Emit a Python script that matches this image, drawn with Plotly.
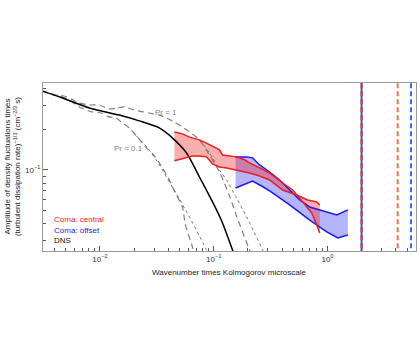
import plotly.graph_objects as go

# ---------------- data ----------------
dns_x = [0.0031, 0.00438, 0.00807, 0.01479, 0.02218, 0.03327, 0.04335, 0.05758, 0.0750, 0.0957, 0.1059, 0.1196, 0.1465, 0.1556]
dns_y = [0.385, 0.348, 0.288, 0.255, 0.231, 0.205, 0.173, 0.134, 0.0887, 0.0600, 0.0506, 0.0405, 0.0255, 0.0223]

pr1_x = [0.0031, 0.00396, 0.00484, 0.00559, 0.00659, 0.00807, 0.00989, 0.01209, 0.0142, 0.01637, 0.02005, 0.02716,
         0.03327, 0.04335, 0.05311, 0.06506, 0.0750, 0.09187, 0.1125, 0.1378, 0.1588, 0.2066, 0.2195]
pr1_y = [0.385, 0.359, 0.353, 0.336, 0.313, 0.303, 0.303, 0.283, 0.288, 0.293, 0.278, 0.264,
         0.255, 0.231, 0.208, 0.185, 0.167, 0.129, 0.0966, 0.0642, 0.0456, 0.0255, 0.0223]

pr01_x = [0.0031, 0.00438, 0.00537, 0.00659, 0.00855, 0.01027, 0.01209, 0.01393, 0.01572, 0.01813, 0.02089, 0.02559,
          0.03009, 0.03327, 0.04077, 0.04607, 0.05311, 0.05642, 0.06506, 0.06773]
pr01_y = [0.385, 0.353, 0.330, 0.293, 0.269, 0.264, 0.247, 0.243, 0.223, 0.205, 0.179, 0.146,
          0.127, 0.113, 0.0843, 0.0676, 0.0532, 0.0392, 0.0269, 0.0223]

pr01_fit_x = [0.02089, 0.02716, 0.03327, 0.04335, 0.06117, 0.0750, 0.08645, 0.09187]
pr01_fit_y = [0.179, 0.141, 0.109, 0.0748, 0.0449, 0.0324, 0.0255, 0.0223]

pr1_fit_x = [0.0750, 0.09187, 0.1125, 0.1297, 0.1588, 0.1945, 0.2288, 0.2690, 0.2861]
pr1_fit_y = [0.167, 0.134, 0.100, 0.0843, 0.0621, 0.0449, 0.0341, 0.0255, 0.0223]

central_a_x = [0.04515, 0.05311, 0.06117, 0.0750, 0.08645, 0.1016, 0.1125, 0.1196, 0.1378, 0.1588, 0.1868, 0.2066,
               0.2530, 0.3103, 0.4037, 0.4944, 0.6058, 0.7275, 0.8047, 0.8554]
central_a_y = [0.191, 0.185, 0.175, 0.167, 0.158, 0.148, 0.141, 0.129, 0.127, 0.125, 0.119, 0.113,
               0.1035, 0.0950, 0.0801, 0.0711, 0.0579, 0.0480, 0.0392, 0.0341]
central_b_x = [0.04515, 0.05311, 0.06506, 0.0750, 0.08645, 0.09755, 0.1125, 0.1297, 0.1588, 0.2066, 0.2530, 0.3103,
               0.4037, 0.5366, 0.6700, 0.8047, 0.8554]
central_b_y = [0.117, 0.121, 0.127, 0.127, 0.125, 0.111, 0.105, 0.1035, 0.100, 0.0950, 0.0903, 0.0843,
               0.0711, 0.0653, 0.0600, 0.0579, 0.0551]

offset_hi_x = [0.1556, 0.1945, 0.2195, 0.2530, 0.3103, 0.3800, 0.4653, 0.5702, 0.6982, 0.8554, 1.048, 1.208, 1.510]
offset_hi_y = [0.125, 0.125, 0.123, 0.109, 0.0966, 0.0843, 0.0711, 0.0600, 0.0532, 0.0506, 0.0480, 0.0464, 0.0506]
offset_lo_x = [0.1556, 0.1868, 0.2195, 0.2636, 0.3103, 0.4653, 0.6982, 0.9859, 1.233, 1.510]
offset_lo_y = [0.0736, 0.0787, 0.0829, 0.0761, 0.0699, 0.0551, 0.0426, 0.0348, 0.0314, 0.0330]

cutoff_x = [1.994, 4.14, 5.42]
y_span = [0.02, 0.5]

x_major = [0.01, 0.1, 1]
x_major_text = ["10<sup>\u22122</sup>", "10<sup>\u22121</sup>", "10<sup>0</sup>"]
y_major = [0.1]
y_major_text = ["10<sup>\u22121</sup>"]
x_minor = [m * d for d in (0.001, 0.01, 0.1, 1) for m in range(2, 10)]
y_minor = [0.03, 0.04, 0.05, 0.06, 0.07, 0.08, 0.09, 0.2, 0.3, 0.4]

RED = "#ee1c1c"
BLUE = "#1a1aee"
GRAY = "#7f7f7f"

fig = go.Figure()

# offset (blue) band fill
fig.add_trace(go.Scatter(x=offset_hi_x + offset_lo_x[::-1], y=offset_hi_y + offset_lo_y[::-1],
                         fill="toself", fillcolor="rgba(40,40,255,0.35)", line=dict(width=0),
                         mode="lines", hoverinfo="skip", showlegend=False))
# central (red) band fill
fig.add_trace(go.Scatter(x=central_a_x + central_b_x[::-1], y=central_a_y + central_b_y[::-1],
                         fill="toself", fillcolor="rgba(240,30,30,0.36)", line=dict(width=0),
                         mode="lines", hoverinfo="skip", showlegend=False))

# model curves
sm = dict(shape="spline", smoothing=0.7)
fig.add_trace(go.Scatter(x=pr01_x, y=pr01_y, mode="lines",
                         line=dict(color=GRAY, width=1.2, dash="6px,4px", **sm), showlegend=False))
fig.add_trace(go.Scatter(x=pr1_x, y=pr1_y, mode="lines",
                         line=dict(color=GRAY, width=1.2, dash="6px,4px", **sm), showlegend=False))
fig.add_trace(go.Scatter(x=pr01_fit_x, y=pr01_fit_y, mode="lines",
                         line=dict(color="#555555", width=0.8, dash="dot", **sm), showlegend=False))
fig.add_trace(go.Scatter(x=pr1_fit_x, y=pr1_fit_y, mode="lines",
                         line=dict(color="#555555", width=0.8, dash="dot", **sm), showlegend=False))
fig.add_trace(go.Scatter(x=dns_x, y=dns_y, mode="lines",
                         line=dict(color="black", width=1.5, **sm), showlegend=False))

# band edges
for xs, ys, c in [(offset_hi_x, offset_hi_y, BLUE), (offset_lo_x, offset_lo_y, BLUE),
                  (central_a_x, central_a_y, RED), (central_b_x, central_b_y, RED)]:
    fig.add_trace(go.Scatter(x=xs, y=ys, mode="lines", line=dict(color=c, width=1.5), showlegend=False))

# vertical cutoff lines
fig.add_trace(go.Scatter(x=[cutoff_x[0]] * 2, y=y_span, mode="lines",
                         line=dict(color="#2f55e0", width=2), showlegend=False))
fig.add_trace(go.Scatter(x=[cutoff_x[0]] * 2, y=y_span, mode="lines",
                         line=dict(color="#e8302a", width=2, dash="5px,3px"), showlegend=False))
fig.add_trace(go.Scatter(x=[cutoff_x[1]] * 2, y=y_span, mode="lines",
                         line=dict(color="#f2705e", width=2, dash="5px,3px"), showlegend=False))
fig.add_trace(go.Scatter(x=[cutoff_x[2]] * 2, y=y_span, mode="lines",
                         line=dict(color="#3a6fe0", width=2, dash="5px,3px"), showlegend=False))

FONT = "Liberation Sans, Arial, sans-serif"
axis_common = dict(type="log", showgrid=False, zeroline=False, showline=True, mirror=True,
                   linecolor="#9a9a9a", linewidth=1, ticks="inside", ticklen=5, tickcolor="#555555",
                   tickfont=dict(size=8, color="#333333", family=FONT))

fig.update_xaxes(range=[-2.5, 0.778], tickvals=x_major, ticktext=x_major_text,
                 minor=dict(tickvals=x_minor, ticks="inside", ticklen=3, tickcolor="#555555"),
                 **axis_common)
fig.update_yaxes(range=[-1.6, -0.356], tickvals=y_major, ticktext=y_major_text,
                 minor=dict(tickvals=y_minor, ticks="inside", ticklen=3, tickcolor="#555555"),
                 **axis_common)

def txt(text, x, y, color, xanchor="center", angle=0):
    return dict(text=text, xref="paper", yref="paper", x=x, y=y, xanchor=xanchor, yanchor="middle",
                textangle=angle, showarrow=False, font=dict(size=8, color=color, family=FONT))

ann = [
    txt("Wavenumber times Kolmogorov microscale", 0.5, -0.125, "#222222"),
    txt("Amplitude of density fluctuations times<br>(turbulent dissipation rate)<sup>\u22121/3</sup> (cm<sup>\u22122/3</sup> s)",
        -0.083, 0.5, "#222222", angle=-90),
    txt("Pr = 1", 0.330, 0.827, "#808080"),
    txt("Pr = 0.1", 0.228, 0.613, "#808080"),
    txt("Coma: central", 0.024, 0.185, "#ee2222", xanchor="left"),
    txt("Coma: offset", 0.024, 0.125, "#2222ee", xanchor="left"),
    txt("DNS", 0.024, 0.065, "#111111", xanchor="left"),
]

fig.update_layout(width=420, height=362, margin=dict(l=43, r=4, t=83, b=111),
                  paper_bgcolor="white", plot_bgcolor="white", annotations=ann,
                  font=dict(family=FONT))

# remove the default page margin so the figure sits at the window's top-left corner
fig.write_html("out.html", config={"displayModeBar": False},
               post_script="document.body.style.margin='0';")
